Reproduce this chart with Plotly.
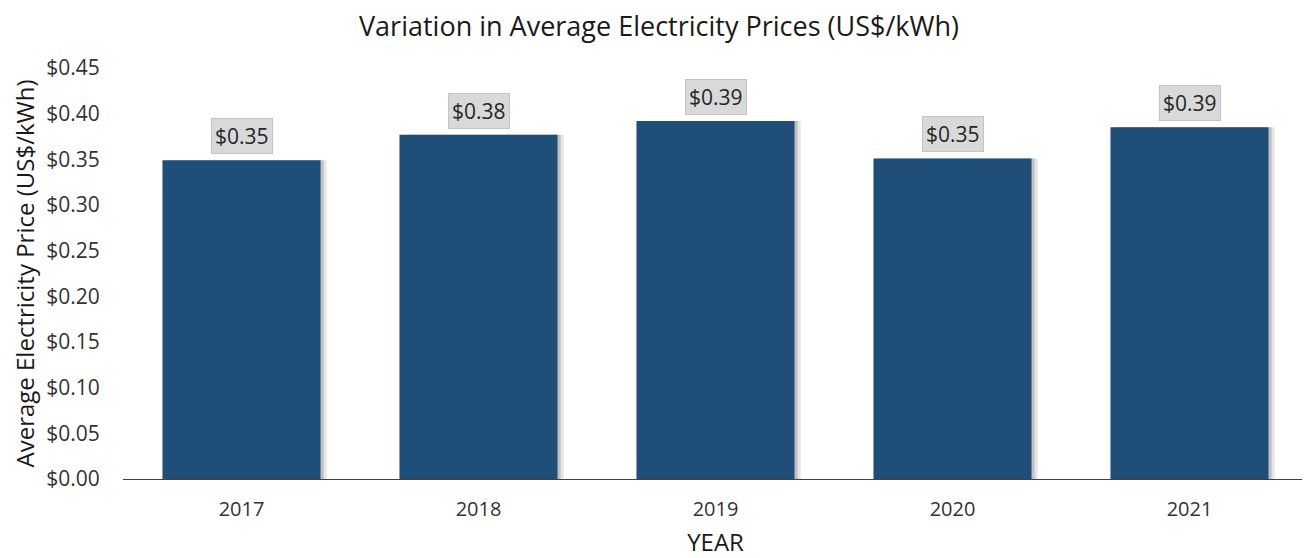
import plotly.graph_objects as go

years = [2017, 2018, 2019, 2020, 2021]
year_labels = ["2017", "2018", "2019", "2020", "2021"]
prices = [0.349, 0.377, 0.392, 0.351, 0.385]
labels = ["$0.35", "$0.38", "$0.39", "$0.35", "$0.39"]
y_ticks = [0, 0.05, 0.10, 0.15, 0.20, 0.25, 0.30, 0.35, 0.40, 0.45]
y_tick_labels = ["$%.2f" % v for v in y_ticks]

fig = go.Figure()
# soft shadow (two layered strips)
for off, alpha in [(0.026, 0.10), (0.013, 0.16)]:
    fig.add_trace(go.Bar(x=years, y=prices, width=0.667, offset=-0.3335 + off,
                         marker=dict(color="rgba(0,0,0,%.2f)" % alpha, line=dict(width=0)),
                         hoverinfo="skip", showlegend=False))
fig.add_trace(go.Bar(x=years, y=prices, width=0.667, offset=-0.3335,
                     marker=dict(color="#1F4E79", line=dict(width=0)),
                     showlegend=False))

for yr, p, lab in zip(years, prices, labels):
    fig.add_annotation(x=yr, y=p, text=lab, showarrow=False, yanchor="bottom",
                       yshift=6, font=dict(family="Open Sans", size=21, color="#262626"),
                       bgcolor="#D9D9D9", bordercolor="#C4C4C4", borderwidth=1, borderpad=3)

fig.update_layout(
    width=1302, height=550,
    margin=dict(l=115, r=2, t=60, b=79, autoexpand=False),
    paper_bgcolor="white", plot_bgcolor="white",
    barmode="overlay",
    title=dict(text="Variation in Average Electricity Prices (US$/kWh)",
               x=0.5, xanchor="center", y=0.966, yanchor="middle",
               font=dict(family="Open Sans", size=27, color="#1a1a1a")),
    font=dict(family="Open Sans", color="#333333"),
)
fig.update_xaxes(type="linear", automargin=False, range=[2016.5, 2021.5],
                 tickvals=years, ticktext=year_labels,
                 title=dict(text="YEAR", font=dict(size=24, color="#1a1a1a"), standoff=13),
                 tickfont=dict(size=20, color="#333333"),
                 showline=True, linecolor="#404040", linewidth=1, ticks="outside",
                 ticklen=12, tickcolor="rgba(0,0,0,0)",
                 showgrid=False, zeroline=False)
fig.update_yaxes(automargin=False,
                 title=dict(text="Average Electricity Price (US$/kWh)",
                            font=dict(size=24, color="#1a1a1a"), standoff=14),
                 range=[0, 0.45], tickvals=y_ticks, ticktext=y_tick_labels,
                 tickfont=dict(size=21, color="#333333"),
                 ticks="outside", ticklen=18, tickcolor="rgba(0,0,0,0)",
                 showgrid=False, zeroline=False, showline=False)

fig.write_html("out.html")
